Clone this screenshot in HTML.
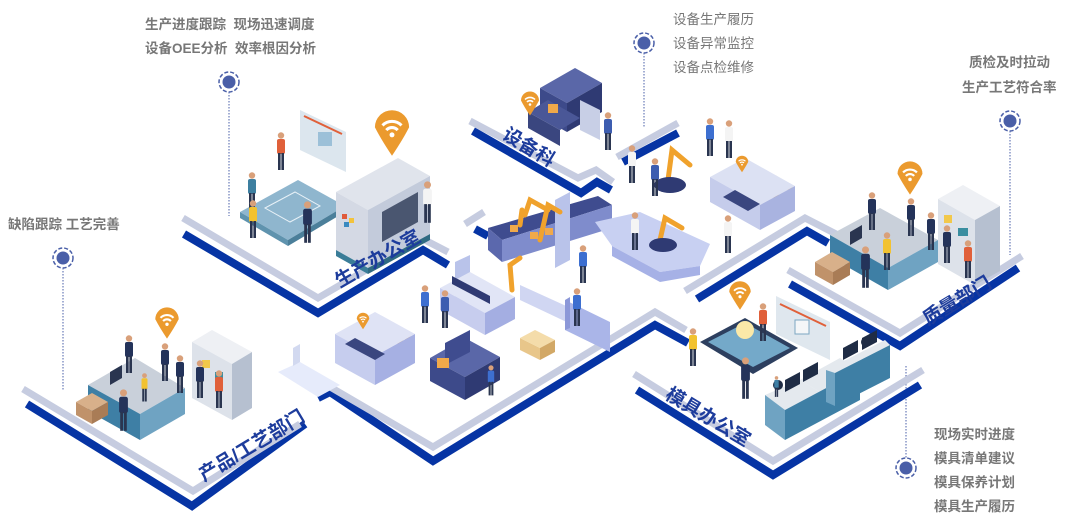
<!DOCTYPE html>
<html><head><meta charset="utf-8">
<style>
html,body{margin:0;padding:0;background:#fff;}
body{width:1074px;height:529px;overflow:hidden;position:relative;font-family:"Liberation Sans","Noto Sans CJK SC",sans-serif;}
.t{position:absolute;font-size:13.5px;color:#777;font-weight:bold;white-space:nowrap;line-height:24px;}
.lab{position:absolute;font-size:19px;color:#1d3c9c;font-weight:bold;white-space:nowrap;transform-origin:left center;}
svg{position:absolute;left:0;top:0;}
</style></head><body>
<svg width="1074" height="529" viewBox="0 0 1074 529">
<defs>
<symbol id="p" viewBox="0 0 10 40" width="10" height="40">
<circle cx="5" cy="3.5" r="3.2" fill="#d9a07a"/>
<rect x="1" y="7" width="8" height="15" rx="2" fill="currentColor"/>
<rect x="2" y="21" width="2.6" height="17" fill="#2a3550"/>
<rect x="5.4" y="21" width="2.6" height="17" fill="#2a3550"/>
</symbol>
<symbol id="pin" viewBox="-10 -10 20 26" width="20" height="26">
<path d="M-9 0 A9 9 0 1 1 9 0 Q6 6 0 15 Q-6 6 -9 0Z" fill="#eb9a2e"/>
<path d="M-5 -1 A7 7 0 0 1 5 -1 M-3 1.5 A4 4 0 0 1 3 1.5" stroke="#fff" stroke-width="1.6" fill="none"/>
<circle cx="0" cy="4" r="1.3" fill="#fff"/>
</symbol>
<symbol id="mk" viewBox="-12 -12 24 24" width="24" height="24">
<circle r="10" fill="none" stroke="#4a5fa8" stroke-width="1.5" stroke-dasharray="4 2"/>
<circle r="6.5" fill="#4a5fa8"/>
</symbol>
</defs>

<g stroke="#4a5fa8" stroke-width="1" stroke-dasharray="1.5 1.5" fill="none">
<line x1="229" y1="92" x2="229" y2="216"/>
<line x1="63" y1="268" x2="63" y2="390"/>
<line x1="644" y1="53" x2="644" y2="128"/>
<line x1="1010" y1="131" x2="1010" y2="255"/>
<line x1="906" y1="366" x2="906" y2="458"/>
</g>
<use href="#mk" x="217" y="70"/>
<use href="#mk" x="51" y="246"/>
<use href="#mk" x="632" y="31"/>
<use href="#mk" x="998" y="109"/>
<use href="#mk" x="894" y="456"/>

<g stroke="#0634a4" stroke-width="8" fill="none" stroke-linejoin="miter">
<polyline points="184,234 318,313 423,250 448,265"/>
<polyline points="473,131 581,193 597,182 611,190"/>
<polyline points="623,162 678,133"/>
<polyline points="27,404 192,506 305,424"/>
<polyline points="318,398 330,392 433,461 655,325 688,343"/>
<polyline points="637,390 773,475 920,385"/>
<polyline points="697,299 807,231 828,243"/>
<polyline points="790,284 900,346 1018,268"/>
<polyline points="475,229 488,236"/>
</g>
<g stroke="#c6cce0" stroke-width="7" fill="none" stroke-linejoin="miter">
<polyline points="183,218 318,298 421,238 448,252"/>
<polyline points="470,121 578,178 596,170 613,182"/>
<polyline points="617,157 678,123"/>
<polyline points="23,389 193,491 300,424"/>
<polyline points="325,384 433,447 655,312 686,330"/>
<polyline points="634,374 773,461 923,370"/>
<polyline points="685,291 805,218 838,235"/>
<polyline points="788,270 900,333 1022,256"/>
<polyline points="465,224 484,212"/>
</g>
<polygon points="278,372 300,362 340,385 318,397" fill="#e6ebfb"/>
<polygon points="293,348 300,344 300,362 293,366" fill="#d2d9f0"/>

<!-- Production office -->
<polygon points="300,110 346,132 346,172 300,150" fill="#dce6ee"/>
<line x1="304" y1="116" x2="342" y2="134" stroke="#e0603a" stroke-width="2"/>
<rect x="318" y="132" width="14" height="14" fill="#9cc0d8"/>
<polygon points="240,212 298,180 345,206 288,240" fill="#8fb6ce"/>
<polygon points="240,212 288,240 288,246 240,218" fill="#5f93ae"/>
<polygon points="288,240 345,206 345,212 288,246" fill="#4b7f9a"/>
<g stroke="#e8f1f7" stroke-width="1" fill="none"><polygon points="265,208 295,192 320,206 290,222"/></g>
<polygon points="398,158 430,176 368,210 336,192" fill="#e0e4ec"/>
<polygon points="336,192 368,210 368,268 336,250" fill="#d4d9e4"/>
<polygon points="368,210 430,176 430,234 368,268" fill="#c3cbdb"/>
<polygon points="382,212 418,192 418,222 382,242" fill="#4a5670"/>
<polygon points="336,250 368,268 368,274 336,256" fill="#3a7d98"/>
<polygon points="368,268 430,234 430,240 368,274" fill="#2f6a82"/>
<rect x="342" y="214" width="5" height="5" fill="#e05a3a"/><rect x="349" y="218" width="5" height="5" fill="#f3c33c"/><rect x="344" y="222" width="5" height="5" fill="#3a8ac0"/>
<use href="#pin" x="373" y="108" width="38" height="50"/>
<use href="#p" x="276" y="132" style="color:#e0603a"/>
<use href="#p" x="247" y="172" style="color:#3d7fa0"/>
<use href="#p" x="248" y="200" style="color:#f2c230"/>
<use href="#p" x="302" y="200" width="11" height="46" style="color:#24335a"/>
<use href="#p" x="422" y="180" width="11" height="46" style="color:#f4f4f4"/>

<!-- Equipment dept -->
<polygon points="575,68 602,83 567,103 540,88" fill="#5a67a8"/>
<polygon points="540,88 567,103 567,132 540,117" fill="#3d4a8a"/>
<polygon points="567,103 602,83 602,112 567,132" fill="#2f3a73"/>
<polygon points="548,100 580,118 560,130 528,112" fill="#4a5797"/>
<polygon points="528,112 560,130 560,146 528,128" fill="#3a467f"/>
<polygon points="580,100 600,110 600,140 580,130" fill="#c8cfe6"/>
<rect x="548" y="104" width="10" height="9" fill="#f0a94a"/>
<use href="#pin" x="520" y="90" width="20" height="27"/>
<use href="#p" x="603" y="112" style="color:#3d5db0"/>

<!-- Central factory -->
<polygon points="488,228 598,196 612,205 502,240" fill="#3f4c8f"/>
<polygon points="502,240 612,205 612,228 502,262" fill="#7f8ccc"/>
<polygon points="488,228 502,240 502,262 488,250" fill="#5b68ad"/>
<polygon points="595,222 640,212 710,244 700,266 660,272 612,246" fill="#c8d0f2"/>
<polygon points="612,246 660,272 700,266 700,275 660,282 612,256" fill="#a6b1e6"/>
<polygon points="555,200 570,192 570,260 555,268" fill="#b9c3ea"/>
<polygon points="455,262 470,255 470,300 455,307" fill="#b9c3ea"/>
<g stroke="#f0a22c" stroke-width="5" stroke-linecap="round" fill="none">
<polyline points="668,180 672,150 690,165"/>
<polyline points="660,240 665,218 682,228"/>
<polyline points="775,205 778,180 792,190"/>
<polyline points="525,215 530,200 548,210"/>
<polyline points="540,240 548,205 560,212"/>
<polyline points="512,290 510,265 520,258"/>
<polyline points="398,352 402,335 412,340"/>
<polyline points="520,225 522,210"/>
</g>
<g fill="#f0a94a"><rect x="510" y="225" width="8" height="7"/><rect x="530" y="232" width="8" height="7"/><rect x="545" y="228" width="8" height="7"/></g>
<ellipse cx="670" cy="185" rx="16" ry="8" fill="#2f3a73"/>
<ellipse cx="663" cy="245" rx="14" ry="7" fill="#2f3a73"/>
<ellipse cx="777" cy="210" rx="13" ry="6" fill="#2f3a73"/>
<polygon points="745,158 795,186 760,205 710,177" fill="#dce1f3"/>
<polygon points="710,177 760,205 760,230 710,202" fill="#c5cceb"/>
<polygon points="760,205 795,186 795,211 760,230" fill="#a9b3e0"/>
<polygon points="735,190 760,204 748,211 723,197" fill="#3a467f"/>
<use href="#pin" x="735" y="155" width="14" height="18"/>
<polygon points="470,272 515,297 485,313 440,288" fill="#e1e5f6"/>
<polygon points="440,288 485,313 485,335 440,310" fill="#c7cdee"/>
<polygon points="485,313 515,297 515,319 485,335" fill="#a4aee2"/>
<polygon points="452,284 490,304 490,296 452,276" fill="#2f3a73"/>
<polygon points="520,285 575,310 575,326 520,300" fill="#d0d6f2"/>
<polygon points="375,312 415,334 375,356 335,334" fill="#dfe3f5"/>
<polygon points="335,334 375,356 375,385 335,363" fill="#c6cdee"/>
<polygon points="375,356 415,334 415,363 375,385" fill="#a6b0e3"/>
<polygon points="355,338 385,354 375,360 345,344" fill="#3a467f"/>
<use href="#pin" x="356" y="312" width="14" height="18"/>
<polygon points="465,338 500,357 465,377 430,358" fill="#5a67a8"/>
<polygon points="430,358 465,377 465,400 430,381" fill="#3d4a8a"/>
<polygon points="465,377 500,357 500,380 465,400" fill="#2f3a73"/>
<polygon points="445,343 470,330 470,352 445,365" fill="#3f4c8f"/>
<rect x="437" y="358" width="12" height="10" fill="#f0a94a"/>
<polygon points="520,338 540,348 540,360 520,350" fill="#e8c68a"/>
<polygon points="520,338 535,330 555,340 540,348" fill="#f4dcaa"/>
<polygon points="540,348 555,340 555,352 540,360" fill="#d2a866"/>
<polygon points="565,300 610,322 610,352 565,330" fill="#aab5e8"/>
<polygon points="565,300 570,297 570,328 565,330" fill="#8c98d8"/>
<use href="#p" x="420" y="285" style="color:#3d6fd0"/>
<use href="#p" x="440" y="290" style="color:#3d5db0"/>
<use href="#p" x="572" y="288" style="color:#3d6fd0"/>
<use href="#p" x="487" y="365" width="8" height="32" style="color:#3d6fd0"/>
<use href="#p" x="578" y="245" style="color:#3d6fd0"/>
<use href="#p" x="627" y="145" style="color:#f4f4f4"/>
<use href="#p" x="650" y="158" style="color:#3d5db0"/>
<use href="#p" x="705" y="118" style="color:#3d6fd0"/>
<use href="#p" x="724" y="120" style="color:#f4f4f4"/>
<use href="#p" x="630" y="212" style="color:#f4f4f4"/>
<use href="#p" x="723" y="215" style="color:#f4f4f4"/>

<!-- Quality dept -->
<polygon points="963,185 1000,206 975,220 938,199" fill="#eef0f4"/>
<polygon points="938,199 975,220 975,285 938,264" fill="#dde2ea"/>
<polygon points="975,220 1000,206 1000,271 975,285" fill="#b6c0d0"/>
<rect x="944" y="215" width="8" height="8" fill="#f2c84a"/><rect x="958" y="228" width="10" height="8" fill="#3a8ea0"/>
<polygon points="830,235 880,208 938,240 888,268" fill="#c9d0da"/>
<polygon points="830,235 888,268 888,290 830,257" fill="#3e7fa5"/>
<polygon points="888,268 938,240 938,262 888,290" fill="#6fa3c2"/>
<polygon points="815,262 832,252 850,262 833,272" fill="#d8b08a"/>
<polygon points="815,262 833,272 833,285 815,275" fill="#c0926a"/>
<polygon points="833,272 850,262 850,275 833,285" fill="#a97c56"/>
<use href="#pin" x="896" y="160" width="28" height="36"/>
<use href="#p" x="867" y="192" style="color:#24335a"/>
<use href="#p" x="906" y="198" style="color:#24335a"/>
<use href="#p" x="882" y="232" style="color:#f2c230"/>
<use href="#p" x="860" y="245" width="11" height="46" style="color:#24335a"/>
<use href="#p" x="926" y="212" style="color:#24335a"/>
<use href="#p" x="942" y="225" style="color:#24335a"/>
<use href="#p" x="963" y="240" style="color:#e0603a"/>
<polygon points="850,232 862,225 862,238 850,245" fill="#2a3550"/>

<!-- Mold office -->
<polygon points="776,296 830,322 830,360 776,334" fill="#dfe7ee"/>
<line x1="780" y1="304" x2="826" y2="326" stroke="#e0603a" stroke-width="2"/>
<rect x="795" y="320" width="14" height="14" fill="#f4f6f8" stroke="#7da7c2"/>
<polygon points="700,342 745,318 798,348 753,374" fill="#2d3f5f"/>
<polygon points="708,342 745,323 790,348 753,367" fill="#74a9c9"/>
<circle cx="745" cy="330" r="9" fill="#fbe9a8"/>
<use href="#pin" x="728" y="280" width="24" height="31"/>
<polygon points="800,380 840,358 860,370 820,392" fill="#e4e9ee"/>
<polygon points="765,395 800,380 820,392 785,410" fill="#e4e9ee"/>
<polygon points="765,395 785,410 785,440 765,425" fill="#6fa3c2"/>
<polygon points="785,410 860,370 860,400 785,440" fill="#3e7fa5"/>
<polygon points="830,368 885,340 890,345 835,373" fill="#e4e9ee"/>
<polygon points="835,373 890,345 890,378 835,406" fill="#3e7fa5"/>
<polygon points="826,370 835,373 835,406 826,402" fill="#6fa3c2"/>
<g fill="#1f2c45">
<polygon points="785,392 800,384 800,372 785,380"/>
<polygon points="803,382 818,374 818,362 803,370"/>
<polygon points="843,360 858,352 858,340 843,348"/>
<polygon points="862,350 877,342 877,330 862,338"/>
<circle cx="778" cy="385" r="5"/><circle cx="850" cy="350" r="5"/><circle cx="866" cy="342" r="5"/>
</g>
<use href="#p" x="688" y="328" style="color:#f2c230"/>
<use href="#p" x="758" y="303" style="color:#e0603a"/>
<use href="#p" x="740" y="356" width="11" height="46" style="color:#24335a"/>
<use href="#p" x="772" y="376" width="9" height="22" style="color:#3e7fa5"/>

<!-- Product / process dept -->
<polygon points="212,330 252,352 232,364 192,342" fill="#eef0f4"/>
<polygon points="192,342 232,364 232,420 192,398" fill="#dde2ea"/>
<polygon points="232,364 252,352 252,408 232,420" fill="#b6c0d0"/>
<rect x="202" y="360" width="8" height="8" fill="#f2c84a"/><rect x="215" y="372" width="8" height="7" fill="#3a8ea0"/>
<polygon points="88,385 135,358 185,388 140,414" fill="#c9d0da"/>
<polygon points="88,385 140,414 140,440 88,411" fill="#3e7fa5"/>
<polygon points="140,414 185,388 185,414 140,440" fill="#6fa3c2"/>
<polygon points="76,402 92,393 108,402 92,411" fill="#d8b08a"/>
<polygon points="76,402 92,411 92,424 76,415" fill="#c0926a"/>
<polygon points="92,411 108,402 108,415 92,424" fill="#a97c56"/>
<polygon points="110,372 122,365 122,378 110,385" fill="#2a3550"/>
<use href="#pin" x="154" y="306" width="26" height="34"/>
<use href="#p" x="124" y="335" style="color:#24335a"/>
<use href="#p" x="160" y="343" style="color:#24335a"/>
<use href="#p" x="140" y="373" width="9" height="30" style="color:#f2c230"/>
<use href="#p" x="118" y="388" width="11" height="46" style="color:#24335a"/>
<use href="#p" x="175" y="355" style="color:#24335a"/>
<use href="#p" x="195" y="360" style="color:#24335a"/>
<use href="#p" x="214" y="370" style="color:#e0603a"/>
</svg>

<div class="lab" style="left:336px;top:268px;transform:rotate(-30deg);">生产办公室</div>
<div class="lab" style="left:505px;top:118px;transform:rotate(31deg);">设备科</div>
<div class="lab" style="left:200px;top:462px;transform:rotate(-31deg);">产品/工艺部门</div>
<div class="lab" style="left:924px;top:306px;transform:rotate(-31deg);">质量部门</div>
<div class="lab" style="left:668px;top:378px;transform:rotate(31deg);">模具办公室</div>

<div class="t" style="left:145px;top:13px;">生产进度跟踪&nbsp; 现场迅速调度</div>
<div class="t" style="left:145px;top:37px;">设备OEE分析&nbsp; 效率根因分析</div>
<div class="t" style="left:8px;top:213px;">缺陷跟踪 工艺完善</div>
<div class="t" style="left:673px;top:8px;font-weight:normal;">设备生产履历</div>
<div class="t" style="left:673px;top:32px;font-weight:normal;">设备异常监控</div>
<div class="t" style="left:673px;top:56px;font-weight:normal;">设备点检维修</div>
<div class="t" style="left:969px;top:51px;">质检及时拉动</div>
<div class="t" style="left:962px;top:76px;">生产工艺符合率</div>
<div class="t" style="left:934px;top:423px;">现场实时进度</div>
<div class="t" style="left:934px;top:447px;">模具清单建议</div>
<div class="t" style="left:934px;top:471px;">模具保养计划</div>
<div class="t" style="left:934px;top:495px;">模具生产履历</div>
</body></html>
